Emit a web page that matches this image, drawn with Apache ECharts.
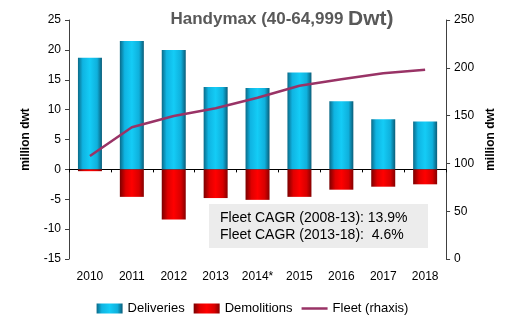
<!DOCTYPE html>
<html><head><meta charset="utf-8">
<script src="https://cdn.jsdelivr.net/npm/echarts@6/dist/echarts.min.js"></script>
<style>html,body{margin:0;padding:0;background:#fff}#c{width:505px;height:329px}</style>
</head><body><div id="c"></div>
<script>
const categories = ['2010','2011','2012','2013','2014*','2015','2016','2017','2018'];
const deliveries = [18.7, 21.5, 20.0, 13.8, 13.6, 16.2, 11.4, 8.4, 8.0];
const demolitions = [-0.3, -4.6, -8.4, -4.8, -5.1, -4.6, -3.4, -2.9, -2.5];
const fleet = [107.7, 137.8, 149.6, 157.6, 168.7, 181.3, 188, 194.2, 198];
const leftTicks = {min: -15, max: 25, interval: 5};
const rightTicks = {min: 0, max: 250, interval: 50};
const cagrLines = ['Fleet CAGR (2008-13): 13.9%', 'Fleet CAGR (2013-18):  4.6%'];

const font = 'Liberation Sans, Arial, sans-serif';
const chart = echarts.init(document.getElementById('c'), null, {renderer: 'canvas'});
function grad(stops) {
  return new echarts.graphic.LinearGradient(0, 0, 1, 0, stops.map(s => ({offset: s[0], color: s[1]})));
}
const blue = grad([[0, '#0a6a88'], [0.2, '#0fb4e2'], [0.5, '#14ccf6'], [0.8, '#0fb0dc'], [1, '#0a5c78']]);
const red = grad([[0, '#7a0000'], [0.25, '#e00000'], [0.5, '#ff0000'], [0.8, '#d80000'], [1, '#860000']]);
chart.setOption({
  animation: false,
  textStyle: {fontFamily: font},
  title: {
    text: '{a|Handymax (40-64,999 }{b|Dwt)}',
    left: 277, top: 4, textAlign: 'center',
    textStyle: {rich: {
      a: {fontSize: 17, fontWeight: 'bold', color: '#595959', fontFamily: font},
      b: {fontSize: 21, fontWeight: 'bold', color: '#595959', fontFamily: font}
    }}
  },
  grid: {left: 69, right: 55, top: 20, bottom: 70, containLabel: false},
  legend: {
    bottom: 9, left: 'center', itemGap: 9, itemWidth: 26, itemHeight: 10,
    textStyle: {fontSize: 13, color: '#000', fontFamily: font},
    data: [
      {name: 'Deliveries', icon: 'rect'},
      {name: 'Demolitions', icon: 'rect'},
      {name: 'Fleet (rhaxis)', icon: 'path://M0,0 L26,0 L26,2.5 L0,2.5 Z'}
    ]
  },
  xAxis: [{
    type: 'category', data: categories,
    axisLine: {onZero: true, onZeroAxisIndex: 0, lineStyle: {color: '#000', width: 1}},
    axisTick: {show: true, length: 3, lineStyle: {color: '#000'}},
    axisLabel: {show: false}
  }, {
    type: 'category', data: categories, position: 'bottom',
    axisLine: {show: false, onZero: false}, axisTick: {show: false},
    axisLabel: {fontSize: 12, color: '#000', margin: 12, fontFamily: font}
  }],
  yAxis: [{
    type: 'value', min: leftTicks.min, max: leftTicks.max, interval: leftTicks.interval,
    name: 'million dwt', nameLocation: 'middle', nameGap: 37, nameRotate: 90,
    nameTextStyle: {fontSize: 12, fontWeight: 'bold', color: '#000', fontFamily: font},
    axisLine: {show: true, lineStyle: {color: '#404040'}},
    axisTick: {show: true, length: 4, lineStyle: {color: '#404040'}},
    axisLabel: {fontSize: 12, color: '#000', margin: 8, fontFamily: font},
    splitLine: {show: false}
  }, {
    type: 'value', min: rightTicks.min, max: rightTicks.max, interval: rightTicks.interval,
    position: 'right',
    name: 'million dwt', nameLocation: 'middle', nameGap: 38, nameRotate: 90,
    nameTextStyle: {fontSize: 12, fontWeight: 'bold', color: '#000', fontFamily: font},
    axisLine: {show: true, lineStyle: {color: '#404040'}},
    axisTick: {show: true, length: 4, lineStyle: {color: '#404040'}},
    axisLabel: {fontSize: 12, color: '#000', margin: 8, fontFamily: font},
    splitLine: {show: false}
  }],
  series: [{
    name: 'Deliveries', type: 'bar', stack: 's', data: deliveries, barWidth: 24,
    itemStyle: {color: blue}, z: 2
  }, {
    name: 'Demolitions', type: 'bar', stack: 's', data: demolitions, barWidth: 24,
    itemStyle: {color: red}, z: 2
  }, {
    name: 'Fleet (rhaxis)', type: 'line', yAxisIndex: 1, data: fleet,
    symbol: 'none', lineStyle: {color: '#993366', width: 2.5}, itemStyle: {color: '#993366'}, z: 5
  }],
  graphic: [{
    type: 'group', left: 209, top: 204, children: [
      {type: 'rect', shape: {x: 0, y: 0, width: 219, height: 44}, style: {fill: '#ececec'}},
      {type: 'text', x: 11, y: 7, style: {text: cagrLines[0], font: '14px ' + font, fill: '#000'}},
      {type: 'text', x: 11, y: 24, style: {text: cagrLines[1], font: '14px ' + font, fill: '#000'}}
    ]
  }]
});
</script></body></html>
